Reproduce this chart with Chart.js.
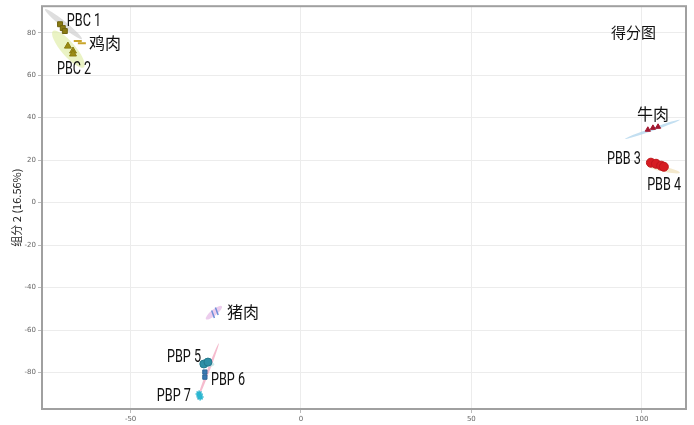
<!DOCTYPE html>
<html>
<head>
<meta charset="utf-8">
<script src="https://cdn.jsdelivr.net/npm/chart.js@4"></script>
<style>
  html, body { margin: 0; padding: 0; background: #ffffff; }
  #wrap { width: 694px; height: 425px; }
</style>
</head>
<body>
<div id="wrap"><canvas id="scoreChart"></canvas></div>
<script>
// axes
const xTicks = [-50, 0, 50, 100];
const yTicks = [-80, -60, -40, -20, 0, 20, 40, 60, 80];
const xRange = [-76, 113];
const yRange = [-97.2, 92.5];
const yTitle = '组分 2 (16.56%)';
const chartTitle = '得分图';

// scores per sample group [x, y]
const pbc1 = [[-70.7, 84.0], [-69.9, 82.2], [-69.3, 80.8]];
const pbc2 = [[-68.4, 73.7], [-66.9, 71.4], [-66.9, 70.0]];
const chicken = [[-65.5, 76.1], [-64.3, 75.1]];
const beef = [[101.8, 34.3], [103.3, 35.2], [104.8, 35.7]];
const pbb3 = [[102.7, 18.8], [104.2, 18.3], [105.7, 17.4], [106.5, 16.9]];
const pork = [[-25.8, -52.6], [-24.7, -51.2]];
const pbp5 = [[-28.5, -76.0], [-27.3, -75.1]];
const pbp6 = [[-28.2, -79.8], [-28.2, -82.2]];
const pbp7 = [[-29.9, -90.1], [-29.6, -91.5]];

// confidence ellipses: major axis end points [x1, y1, x2, y2]
const ellipseAxes = [
    [-75.1, 91.1, -64.3, 77.0],   // PBC 1
    [-72.8, 80.8, -63.7, 63.8],   // PBC 2
    [95.1, 30.0, 111.2, 39.0],    // 牛肉
    [101.6, 17.4, 111.2, 14.1],   // PBB 4
    [-27.9, -54.9, -23.2, -48.8], // 猪肉
    [-30.5, -93.0, -24.1, -66.2], // PBP
    [-29.9, -75.3, -25.4, -76.3]  // PBP 5
];
const ellipseStyle = [
    { color: 'rgba(205,205,205,0.65)', half: 3 },
    { color: 'rgba(222,236,165,0.65)', half: 7 },
    { color: 'rgba(175,212,236,0.75)', half: 1.5 },
    { color: 'rgba(240,226,188,0.75)', half: 2.5 },
    { color: 'rgba(226,178,228,0.65)', half: 3 },
    { color: 'rgba(242,165,190,0.75)', half: 1.3 },
    { color: 'rgba(165,218,218,0.6)', half: 3 }
];

// sample labels, anchored at their left edge
const labelText = ['PBC 1', '鸡肉', 'PBC 2', '牛肉', 'PBB 3', 'PBB 4', '猪肉', 'PBP 5', 'PBP 6', 'PBP 7'];
const labelPos = [[-68.7, 85.4], [-62.2, 75.1], [-71.6, 62.9], [98.6, 41.8], [89.8, 20.2],
                  [101.6, 8.0], [-21.7, -51.6], [-39.3, -72.8], [-26.4, -83.6], [-42.3, -91.5]];
const titlePos = [91.0, 80.3];

const toPts = arr => arr.map(p => ({ x: p[0], y: p[1] }));

const ellipsePlugin = {
    id: 'ellipses',
    beforeDatasetsDraw(chart) {
        const { ctx, scales: { x, y }, chartArea } = chart;
        ctx.save();
        ctx.beginPath();
        ctx.rect(chartArea.left, chartArea.top, chartArea.right - chartArea.left, chartArea.bottom - chartArea.top);
        ctx.clip();
        ellipseAxes.forEach((e, i) => {
            const x1 = x.getPixelForValue(e[0]), y1 = y.getPixelForValue(e[1]);
            const x2 = x.getPixelForValue(e[2]), y2 = y.getPixelForValue(e[3]);
            const cx = (x1 + x2) / 2, cy = (y1 + y2) / 2;
            const rx = Math.hypot(x2 - x1, y2 - y1) / 2;
            const rot = Math.atan2(y2 - y1, x2 - x1);
            ctx.beginPath();
            ctx.ellipse(cx, cy, rx, ellipseStyle[i].half, rot, 0, Math.PI * 2);
            ctx.fillStyle = ellipseStyle[i].color;
            ctx.fill();
        });
        ctx.restore();
    }
};

const labelPlugin = {
    id: 'labels',
    afterDatasetsDraw(chart) {
        const { ctx, scales: { x, y }, chartArea } = chart;
        ctx.save();
        ctx.fillStyle = '#111111';
        ctx.textBaseline = 'middle';
        ctx.textAlign = 'left';
        labelText.forEach((t, i) => {
            const px = x.getPixelForValue(labelPos[i][0]);
            const py = y.getPixelForValue(labelPos[i][1]);
            if (/[\u4e00-\u9fff]/.test(t)) {
                ctx.font = '16px "Noto Sans CJK SC"';
                ctx.fillText(t, px, py);
            } else {
                // condensed look: squeeze the sample names horizontally
                ctx.save();
                ctx.translate(px, py);
                ctx.scale(0.7, 1);
                ctx.font = '18px Roboto, sans-serif';
                ctx.fillText(t, 0, 0);
                ctx.restore();
            }
        });
        ctx.font = '15px "Noto Sans CJK SC"';
        ctx.fillText(chartTitle, x.getPixelForValue(titlePos[0]), y.getPixelForValue(titlePos[1]));
        // frame round the plot
        ctx.strokeStyle = '#a0a0a0';
        ctx.lineWidth = 2;
        ctx.strokeRect(chartArea.left, chartArea.top, chartArea.right - chartArea.left, chartArea.bottom - chartArea.top);
        ctx.restore();
    }
};

const ctx = document.getElementById('scoreChart').getContext('2d');

new Chart(ctx, {
    type: 'scatter',
    data: {
        datasets: [
            { label: 'PBC 1', data: toPts(pbc1), pointStyle: 'rect', pointRadius: 3.5, backgroundColor: '#8a7b12', borderColor: '#6e6210', borderWidth: 1 },
            { label: 'PBC 2', data: toPts(pbc2), pointStyle: 'triangle', pointRadius: 4, backgroundColor: '#9a8c14', borderColor: '#8a7c10', borderWidth: 1 },
            { label: '鸡肉', data: toPts(chicken), pointStyle: 'line', pointRadius: 4, borderColor: '#c9a52a', borderWidth: 2 },
            { label: '牛肉', data: toPts(beef), pointStyle: 'triangle', pointRadius: 3, borderColor: '#a3172f', backgroundColor: '#a3172f', borderWidth: 1 },
            { label: 'PBB 3', data: toPts(pbb3), pointStyle: 'circle', pointRadius: 4.5, backgroundColor: '#d61c22', borderColor: '#c0161b', borderWidth: 1 },
            { label: '猪肉', data: toPts(pork), pointStyle: 'line', rotation: 70, pointRadius: 4, borderColor: '#6f8fd8', borderWidth: 1.5 },
            { label: 'PBP 5', data: toPts(pbp5), pointStyle: 'circle', pointRadius: 4, backgroundColor: '#2f8fa6', borderColor: '#25798d', borderWidth: 1 },
            { label: 'PBP 6', data: toPts(pbp6), pointStyle: 'rect', pointRadius: 3, backgroundColor: '#3a78b2', borderColor: '#2f6799', borderWidth: 1 },
            { label: 'PBP 7', data: toPts(pbp7), pointStyle: 'star', pointRadius: 3.5, borderColor: '#2bb6d0', backgroundColor: '#2bb6d0', borderWidth: 1.5 }
        ]
    },
    options: {
        responsive: true,
        maintainAspectRatio: false,
        animation: false,
        layout: { padding: { top: 5, right: 8, left: 0, bottom: 0 } },
        plugins: {
            legend: { display: false },
            tooltip: { enabled: false }
        },
        scales: {
            x: {
                type: 'linear',
                min: xRange[0],
                max: xRange[1],
                afterBuildTicks: scale => { scale.ticks = xTicks.map(v => ({ value: v })); },
                afterFit: scale => { scale.height = 16; },
                grid: { color: '#ececec', tickLength: 4, tickColor: '#bbbbbb' },
                border: { display: false },
                ticks: { color: '#666666', padding: 2, font: { family: 'DejaVu Sans', size: 7 } }
            },
            y: {
                type: 'linear',
                min: yRange[0],
                max: yRange[1],
                afterBuildTicks: scale => { scale.ticks = yTicks.map(v => ({ value: v })); },
                afterFit: scale => { scale.width = 42; },
                title: {
                    display: true,
                    text: yTitle,
                    color: '#222222',
                    padding: { top: 10, bottom: 0 },
                    font: { family: '"Noto Sans CJK SC"', size: 11 }
                },
                grid: { color: '#ececec', tickLength: 4, tickColor: '#bbbbbb' },
                border: { display: false },
                ticks: { color: '#666666', padding: 2, font: { family: 'DejaVu Sans', size: 7 } }
            }
        }
    },
    plugins: [ellipsePlugin, labelPlugin]
});
</script>
</body>
</html>
